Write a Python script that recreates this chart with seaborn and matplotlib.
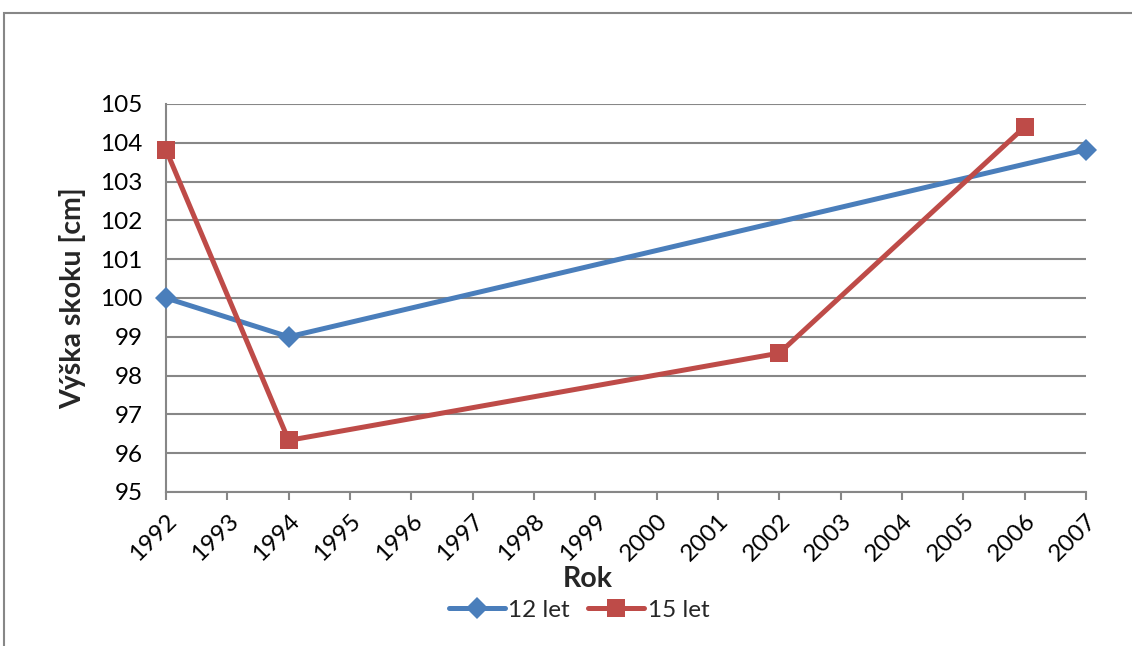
import matplotlib
matplotlib.use("Agg")
import matplotlib.pyplot as plt
from matplotlib.patches import Rectangle
import seaborn as sns
import pandas as pd

# Jump height by year for two age groups
years_12 = [1992, 1994, 2007]
height_12 = [100.0, 99.0, 103.82]
years_15 = [1992, 1994, 2002, 2006]
height_15 = [103.82, 96.33, 98.58, 104.41]
tick_years = list(range(1992, 2008))
series_names = ["12 let", "15 let"]

BLUE = "#4A7EBB"
RED = "#BE4B48"
GRID = "#878787"

sns.set_theme(style="white")
plt.rcParams["font.family"] = ["Lato", "DejaVu Sans"]

fig = plt.figure(figsize=(11.32, 6.46), dpi=100)
ax = fig.add_axes([166 / 1132, 1 - 492 / 646, 920 / 1132, 388 / 646])

df12 = pd.DataFrame({"Rok": years_12, "Výška": height_12})
df15 = pd.DataFrame({"Rok": years_15, "Výška": height_15})

sns.lineplot(data=df12, x="Rok", y="Výška", ax=ax, color=BLUE, lw=3.6,
             marker="D", markersize=11, markeredgewidth=0, label=series_names[0],
             zorder=3, clip_on=False)
sns.lineplot(data=df15, x="Rok", y="Výška", ax=ax, color=RED, lw=3.6,
             marker="s", markersize=12.5, markeredgewidth=0, label=series_names[1],
             zorder=3, clip_on=False)

ax.set_xlim(1992, 2007)
ax.set_ylim(95, 105)
ax.set_yticks(range(95, 106))
ax.set_xticks(tick_years)
ax.set_xticklabels([str(y) for y in tick_years], rotation=45, ha="right",
                   va="top", rotation_mode="anchor")
ax.yaxis.grid(True, color=GRID, lw=1.5)
ax.xaxis.grid(False)
for side in ["top", "right"]:
    ax.spines[side].set_visible(False)
for side in ["left", "bottom"]:
    ax.spines[side].set_color(GRID)
    ax.spines[side].set_linewidth(1.5)
ax.tick_params(axis="y", length=0, pad=17, labelsize=17.5, colors="black")
ax.tick_params(axis="x", length=6, width=1.5, color=GRID, direction="out",
               pad=7, labelsize=17.5, labelcolor="black", bottom=True)
ax.set_xlabel("")
ax.set_ylabel("Výška skoku [cm]", fontsize=20.5, fontweight="bold", labelpad=10)

fig.text(588 / 1132, 1 - 566 / 646, "Rok", ha="center", va="top",
         fontsize=20.5, fontweight="bold", zorder=1)

handles, labels = ax.get_legend_handles_labels()
ax.legend_.remove()
leg = fig.legend(handles, labels, loc="center", ncol=2,
                 bbox_to_anchor=(579 / 1132, 1 - 610 / 646), frameon=True,
                 fontsize=17.5, handlelength=2.3, handletextpad=0.15,
                 columnspacing=0.75, borderpad=0.3)
leg.get_frame().set_facecolor("white")
leg.get_frame().set_edgecolor("white")
leg.get_frame().set_alpha(1)
leg.set_zorder(5)

# Chart-area border
fig.patches.append(Rectangle((4 / 1132, -0.1), 1.2, 1 - 13 / 646 + 0.1,
                             transform=fig.transFigure, fill=False,
                             edgecolor=GRID, lw=1.5, zorder=0))

fig.savefig("out.png", dpi=100)
